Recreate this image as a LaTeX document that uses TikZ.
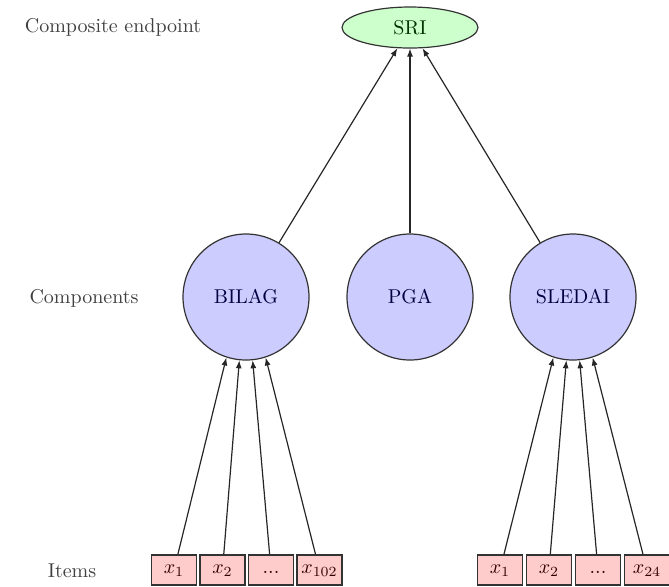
\documentclass[tikz,border=0pt]{standalone}
\usetikzlibrary{arrows.meta,shapes.geometric}
\begin{document}
\begin{tikzpicture}[x=0.5pt,y=-0.5pt,
  every node/.style={font=\normalsize},
  lbl/.style={text=black!75},
  comp/.style={circle,draw=black!80,line width=0.6pt,fill=blue!20,minimum size=63pt,inner sep=0pt,text=blue!25!black},
  endp/.style={ellipse,draw=black!80,line width=0.6pt,fill=green!20,minimum width=68pt,minimum height=20.5pt,inner sep=0pt,text=green!20!black},
  item/.style={rectangle,draw=black!80,line width=0.6pt,fill=red!20,minimum width=22.5pt,minimum height=15pt,inner sep=1pt,text height=1.2ex,text depth=0.5ex,text=red!20!black},
  arr/.style={-{Latex[length=4pt,width=3pt]},line width=0.6pt,draw=black!85}]
\useasboundingbox (0,0) rectangle (669,586);
% row labels
\node[lbl] (lcomp) at (113,27) {Composite endpoint};
\node[lbl] (lcomps) at (84,298) {Components};
\node[lbl] (litems) at (72,571) {Items};
% endpoint
\node[endp] (SRI) at (410,27.5) {SRI};
% components
\node[comp] (BILAG) at (246,297) {BILAG};
\node[comp] (PGA) at (410,297) {PGA};
\node[comp] (SLEDAI) at (573,297) {SLEDAI};
% items BILAG
\node[item] (a1) at (174,570) {$x_1$};
\node[item] (a2) at (222.5,570) {$x_2$};
\node[item] (a3) at (271,570) {...};
\node[item] (a4) at (319.5,570) {$x_{102}$};
% items SLEDAI
\node[item] (b1) at (500,570) {$x_1$};
\node[item] (b2) at (549,570) {$x_2$};
\node[item] (b3) at (598,570) {...};
\node[item] (b4) at (647,570) {$x_{24}$};
% arrows
\draw[arr] (BILAG) -- (SRI);
\draw[arr] (PGA) -- (SRI);
\draw[arr] (SLEDAI) -- (SRI);
\draw[arr] (a1) -- (BILAG.252);
\draw[arr] (a2) -- (BILAG.264);
\draw[arr] (a3) -- (BILAG.276);
\draw[arr] (a4) -- (BILAG.288);
\draw[arr] (b1) -- (SLEDAI.252);
\draw[arr] (b2) -- (SLEDAI.264);
\draw[arr] (b3) -- (SLEDAI.276);
\draw[arr] (b4) -- (SLEDAI.288);
\end{tikzpicture}
\end{document}
